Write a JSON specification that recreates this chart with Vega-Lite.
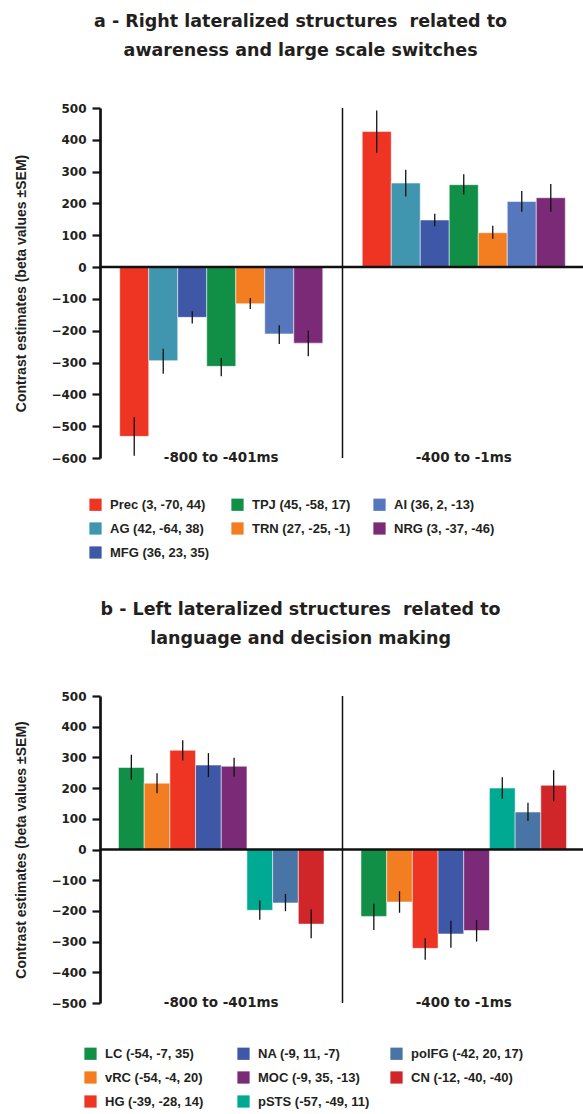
{
  "$schema": "https://vega.github.io/schema/vega-lite/v6.json",
  "padding": {"left": 14, "top": 12, "right": 0, "bottom": 0},
  "background": "white",
  "spacing": 40,
  "config": {
    "font": "Liberation Sans",
    "view": {"stroke": null},
    "title": {"font": "DejaVu Sans", "fontSize": 17.5, "fontWeight": "bold", "color": "#231f20", "lineHeight": 29, "anchor": "middle", "frame": "bounds", "offset": 43},
    "axisY": {"tickCount": 11, "domainColor": "#111", "domainWidth": 2.7, "tickColor": "#111", "tickWidth": 2.2, "tickSize": 8, "labelPadding": 6, "labelFont": "DejaVu Sans", "labelFontSize": 12, "labelFontWeight": "bold", "labelColor": "#231f20", "labelOverlap": false, "grid": false, "titleFont": "Liberation Sans", "titleFontSize": 14, "titleFontWeight": "bold", "titleColor": "#231f20", "titlePadding": 22},
    "axisX": {"domain": false, "ticks": false, "tickSize": 0, "labelAngle": 0, "labelFont": "DejaVu Sans", "labelFontSize": 13.5, "labelFontWeight": "bold", "labelColor": "#231f20", "labelPadding": -1, "labelBaseline": "middle", "title": null, "grid": false},
    "legend": {"orient": "none", "direction": "horizontal", "columns": 3, "gridAlign": "all", "symbolType": "square", "symbolSize": 150, "symbolStrokeWidth": 0, "symbolOpacity": 1, "labelFont": "Liberation Sans", "labelFontSize": 13, "labelFontWeight": "bold", "labelColor": "#231f20", "labelOffset": 8, "rowPadding": 10, "columnPadding": 20, "title": null, "labelLimit": 300}
  },
  "resolve": {"scale": {"color": "independent", "xOffset": "independent", "y": "independent", "x": "independent"}, "legend": {"color": "independent"}},
  "datasets": {
    "a": [
      {"period": "-800 to -401ms", "region": "Prec (3, -70, 44)", "value": -532, "lo": -593, "hi": -472},
      {"period": "-800 to -401ms", "region": "AG (42, -64, 38)", "value": -294, "lo": -335, "hi": -257},
      {"period": "-800 to -401ms", "region": "MFG (36, 23, 35)", "value": -158, "lo": -177, "hi": -139},
      {"period": "-800 to -401ms", "region": "TPJ (45, -58, 17)", "value": -312, "lo": -343, "hi": -286},
      {"period": "-800 to -401ms", "region": "TRN (27, -25, -1)", "value": -115, "lo": -132, "hi": -97},
      {"period": "-800 to -401ms", "region": "AI (36, 2, -13)", "value": -210, "lo": -242, "hi": -183},
      {"period": "-800 to -401ms", "region": "NRG (3, -37, -46)", "value": -239, "lo": -280, "hi": -199},
      {"period": "-400 to -1ms", "region": "Prec (3, -70, 44)", "value": 426, "lo": 359, "hi": 492},
      {"period": "-400 to -1ms", "region": "AG (42, -64, 38)", "value": 264, "lo": 222, "hi": 306},
      {"period": "-400 to -1ms", "region": "MFG (36, 23, 35)", "value": 148, "lo": 128, "hi": 168},
      {"period": "-400 to -1ms", "region": "TPJ (45, -58, 17)", "value": 259, "lo": 228, "hi": 292},
      {"period": "-400 to -1ms", "region": "TRN (27, -25, -1)", "value": 108, "lo": 89, "hi": 130},
      {"period": "-400 to -1ms", "region": "AI (36, 2, -13)", "value": 206, "lo": 174, "hi": 239},
      {"period": "-400 to -1ms", "region": "NRG (3, -37, -46)", "value": 218, "lo": 174, "hi": 261}
    ],
    "b": [
      {"period": "-800 to -401ms", "region": "LC (-54, -7, 35)", "value": 267, "lo": 227, "hi": 309},
      {"period": "-800 to -401ms", "region": "vRC (-54, -4, 20)", "value": 216, "lo": 183, "hi": 248},
      {"period": "-800 to -401ms", "region": "HG (-39, -28, 14)", "value": 323, "lo": 290, "hi": 356},
      {"period": "-800 to -401ms", "region": "NA (-9, 11, -7)", "value": 275, "lo": 236, "hi": 314},
      {"period": "-800 to -401ms", "region": "MOC (-9, 35, -13)", "value": 271, "lo": 238, "hi": 299},
      {"period": "-800 to -401ms", "region": "pSTS (-57, -49, 11)", "value": -198, "lo": -229, "hi": -166},
      {"period": "-800 to -401ms", "region": "polFG (-42, 20, 17)", "value": -174, "lo": -201, "hi": -145},
      {"period": "-800 to -401ms", "region": "CN (-12, -40, -40)", "value": -243, "lo": -289, "hi": -195},
      {"period": "-400 to -1ms", "region": "LC (-54, -7, 35)", "value": -218, "lo": -262, "hi": -177},
      {"period": "-400 to -1ms", "region": "vRC (-54, -4, 20)", "value": -171, "lo": -206, "hi": -136},
      {"period": "-400 to -1ms", "region": "HG (-39, -28, 14)", "value": -322, "lo": -359, "hi": -289},
      {"period": "-400 to -1ms", "region": "NA (-9, 11, -7)", "value": -275, "lo": -320, "hi": -232},
      {"period": "-400 to -1ms", "region": "MOC (-9, 35, -13)", "value": -264, "lo": -300, "hi": -230},
      {"period": "-400 to -1ms", "region": "pSTS (-57, -49, 11)", "value": 200, "lo": 165, "hi": 235},
      {"period": "-400 to -1ms", "region": "polFG (-42, 20, 17)", "value": 122, "lo": 93, "hi": 152},
      {"period": "-400 to -1ms", "region": "CN (-12, -40, -40)", "value": 209, "lo": 157, "hi": 258}
    ]
  },
  "vconcat": [
    {
      "title": {"text": ["a - Right lateralized structures \u00a0related to", "awareness and large scale switches"]},
      "width": 485,
      "height": 350,
      "layer": [
        {
          "data": {"name": "a"},
          "mark": {"type": "bar", "stroke": "white", "strokeWidth": 0.5},
          "encoding": {
            "x": {"field": "period", "type": "nominal", "sort": ["-800 to -401ms", "-400 to -1ms"], "scale": {"paddingInner": 0, "paddingOuter": 0}},
            "xOffset": {"field": "region", "type": "nominal", "sort": ["Prec (3, -70, 44)", "AG (42, -64, 38)", "MFG (36, 23, 35)", "TPJ (45, -58, 17)", "TRN (27, -25, -1)", "AI (36, 2, -13)", "NRG (3, -37, -46)"], "scale": {"paddingInner": 0, "paddingOuter": 0.68}},
            "y": {"field": "value", "type": "quantitative", "title": "Contrast estimates (beta values ±SEM)", "scale": {"domain": [-600, 500], "nice": false, "zero": false}, "axis": {"tickCount": 12, "labelOverlap": false}},
            "color": {"field": "region", "type": "nominal", "scale": {"domain": ["Prec (3, -70, 44)", "TPJ (45, -58, 17)", "AI (36, 2, -13)", "AG (42, -64, 38)", "TRN (27, -25, -1)", "NRG (3, -37, -46)", "MFG (36, 23, 35)"], "range": ["#ee3524", "#118f46", "#5677bc", "#3f96ae", "#f37e22", "#7a2a77", "#3e58a7"]}, "legend": {"legendX": -11, "legendY": 390}}
          }
        },
        {
          "data": {"name": "a"},
          "mark": {"type": "rule", "color": "#111", "strokeWidth": 1.3},
          "encoding": {
            "x": {"field": "period", "type": "nominal", "sort": ["-800 to -401ms", "-400 to -1ms"]},
            "xOffset": {"field": "region", "type": "nominal", "sort": ["Prec (3, -70, 44)", "AG (42, -64, 38)", "MFG (36, 23, 35)", "TPJ (45, -58, 17)", "TRN (27, -25, -1)", "AI (36, 2, -13)", "NRG (3, -37, -46)"]},
            "y": {"field": "lo", "type": "quantitative", "title": "Contrast estimates (beta values ±SEM)", "axis": {"tickCount": 12, "labelOverlap": false}},
            "y2": {"field": "hi"}
          }
        },
        {
          "data": {"values": [{}]},
          "mark": {"type": "rule", "color": "#111", "strokeWidth": 2.5},
          "encoding": {"y": {"datum": 0, "title": "Contrast estimates (beta values ±SEM)", "axis": {"tickCount": 12, "labelOverlap": false}}}
        },
        {
          "data": {"values": [{}]},
          "mark": {"type": "rule", "color": "#111", "strokeWidth": 1.5},
          "encoding": {"x": {"datum": "-400 to -1ms", "bandPosition": 0}}
        }
      ]
    },
    {
      "title": {"text": ["b - Left lateralized structures \u00a0related to", "language and decision making"]},
      "width": 485,
      "height": 307,
      "layer": [
        {
          "data": {"name": "b"},
          "mark": {"type": "bar", "stroke": "white", "strokeWidth": 0.5},
          "encoding": {
            "x": {"field": "period", "type": "nominal", "sort": ["-800 to -401ms", "-400 to -1ms"], "scale": {"paddingInner": 0, "paddingOuter": 0}},
            "xOffset": {"field": "region", "type": "nominal", "sort": ["LC (-54, -7, 35)", "vRC (-54, -4, 20)", "HG (-39, -28, 14)", "NA (-9, 11, -7)", "MOC (-9, 35, -13)", "pSTS (-57, -49, 11)", "polFG (-42, 20, 17)", "CN (-12, -40, -40)"], "scale": {"paddingInner": 0, "paddingOuter": 0.72}},
            "y": {"field": "value", "type": "quantitative", "title": "Contrast estimates (beta values ±SEM)", "scale": {"domain": [-500, 500], "nice": false, "zero": false}, "axis": {"values": [-500, -400, -300, -200, -100, 0, 100, 200, 300, 400, 500], "labelOverlap": false}},
            "color": {"field": "region", "type": "nominal", "scale": {"domain": ["LC (-54, -7, 35)", "NA (-9, 11, -7)", "polFG (-42, 20, 17)", "vRC (-54, -4, 20)", "MOC (-9, 35, -13)", "CN (-12, -40, -40)", "HG (-39, -28, 14)", "pSTS (-57, -49, 11)"], "range": ["#118f46", "#3e58a7", "#4874a6", "#f37e22", "#7a2a77", "#d0262a", "#ee3524", "#00a991"]}, "legend": {"legendX": -16, "legendY": 351}}
          }
        },
        {
          "data": {"name": "b"},
          "mark": {"type": "rule", "color": "#111", "strokeWidth": 1.3},
          "encoding": {
            "x": {"field": "period", "type": "nominal", "sort": ["-800 to -401ms", "-400 to -1ms"]},
            "xOffset": {"field": "region", "type": "nominal", "sort": ["LC (-54, -7, 35)", "vRC (-54, -4, 20)", "HG (-39, -28, 14)", "NA (-9, 11, -7)", "MOC (-9, 35, -13)", "pSTS (-57, -49, 11)", "polFG (-42, 20, 17)", "CN (-12, -40, -40)"]},
            "y": {"field": "lo", "type": "quantitative", "title": "Contrast estimates (beta values ±SEM)"},
            "y2": {"field": "hi"}
          }
        },
        {
          "data": {"values": [{}]},
          "mark": {"type": "rule", "color": "#111", "strokeWidth": 2.5},
          "encoding": {"y": {"datum": 0, "title": "Contrast estimates (beta values ±SEM)"}}
        },
        {
          "data": {"values": [{}]},
          "mark": {"type": "rule", "color": "#111", "strokeWidth": 1.5},
          "encoding": {"x": {"datum": "-400 to -1ms", "bandPosition": 0}}
        }
      ]
    }
  ]
}
